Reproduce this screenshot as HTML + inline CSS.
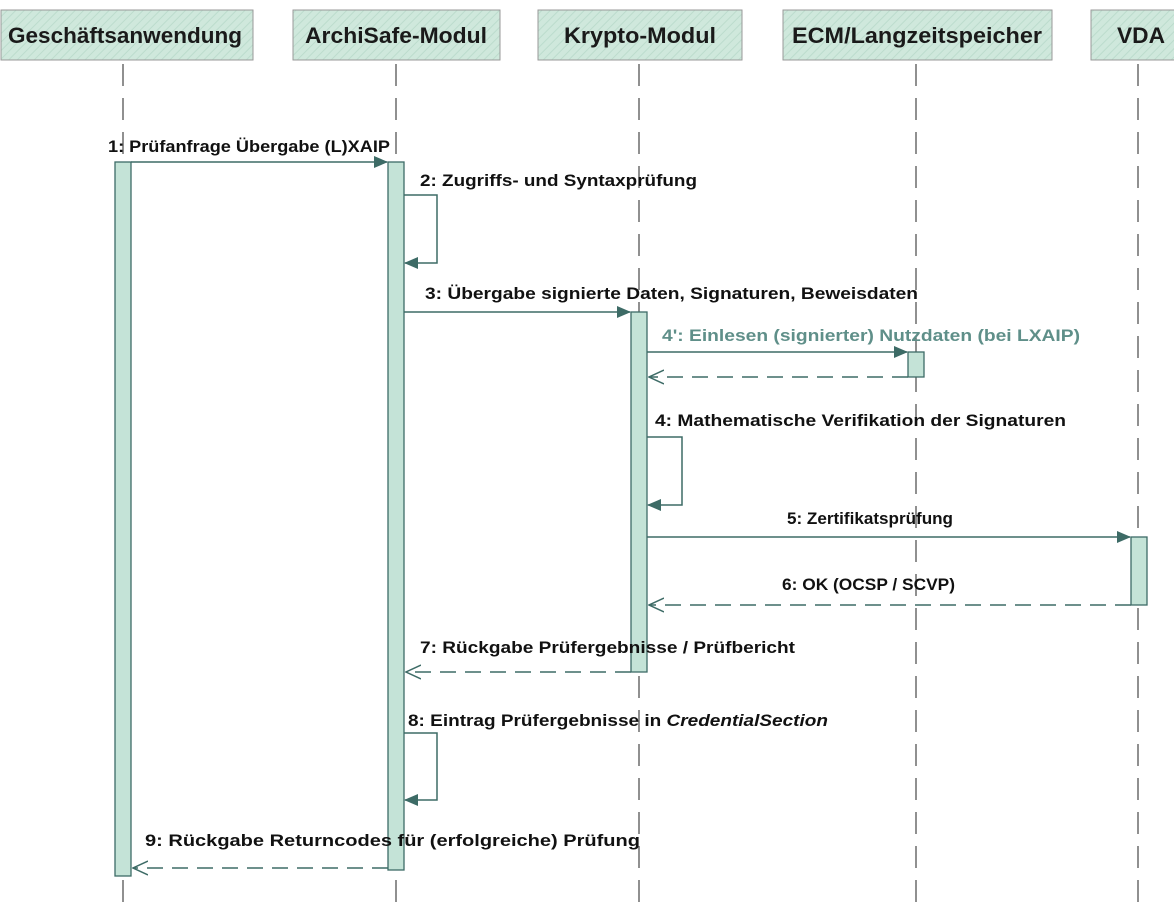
<!DOCTYPE html>
<html><head><meta charset="utf-8"><style>
html,body{margin:0;padding:0;background:#fff;}
svg{display:block;}
.h{font-family:"Liberation Sans",sans-serif;font-weight:bold;font-size:22px;fill:#1a1a1a;}
.m{font-family:"Liberation Sans",sans-serif;font-weight:bold;font-size:17px;fill:#111;}
</style></head><body>
<svg width="1174" height="914" viewBox="0 0 1174 914" xmlns="http://www.w3.org/2000/svg">
<defs>
<pattern id="hp" width="6" height="6" patternUnits="userSpaceOnUse" patternTransform="rotate(45)">
<rect width="6" height="6" fill="#cfe8dc"/><line x1="0" y1="0" x2="0" y2="6" stroke="#bcdccd" stroke-width="2"/>
</pattern>
<marker id="fa" markerWidth="14" markerHeight="12" refX="13" refY="6" orient="auto" markerUnits="userSpaceOnUse"><path d="M0,0 L14,6 L0,12 z" fill="#3d6b66"/></marker>
<marker id="oa" markerWidth="16" markerHeight="16" refX="15" refY="8" orient="auto" markerUnits="userSpaceOnUse"><path d="M0,1 L15,8 L0,15" fill="none" stroke="#3d6b66" stroke-width="1.5"/></marker>
</defs>
<g stroke="#999" stroke-width="1">
<rect x="1" y="10" width="252" height="50" fill="url(#hp)"/>
<rect x="293" y="10" width="207" height="50" fill="url(#hp)"/>
<rect x="538" y="10" width="204" height="50" fill="url(#hp)"/>
<rect x="783" y="10" width="269" height="50" fill="url(#hp)"/>
<rect x="1091" y="10" width="100" height="50" fill="url(#hp)"/>
</g>
<text class="h" x="8" y="43" textLength="234" lengthAdjust="spacingAndGlyphs">Geschäftsanwendung</text>
<text class="h" x="305" y="43" textLength="182" lengthAdjust="spacingAndGlyphs">ArchiSafe-Modul</text>
<text class="h" x="564" y="43" textLength="152" lengthAdjust="spacingAndGlyphs">Krypto-Modul</text>
<text class="h" x="792" y="43" textLength="250" lengthAdjust="spacingAndGlyphs">ECM/Langzeitspeicher</text>
<text class="h" x="1117" y="43" textLength="48" lengthAdjust="spacingAndGlyphs">VDA</text>
<g stroke="#555" stroke-width="1.3" stroke-dasharray="22,12">
<line x1="123" y1="64" x2="123" y2="914"/>
<line x1="396" y1="64" x2="396" y2="914"/>
<line x1="639" y1="64" x2="639" y2="914"/>
<line x1="916" y1="64" x2="916" y2="914"/>
<line x1="1138" y1="64" x2="1138" y2="914"/>
</g>
<g fill="#c4e3d7" stroke="#3d6b66" stroke-width="1.3">
<rect x="115" y="162" width="16" height="714"/>
<rect x="388" y="162" width="16" height="708"/>
<rect x="631" y="312" width="16" height="360"/>
<rect x="908" y="352" width="16" height="25"/>
<rect x="1131" y="537" width="16" height="68"/>
</g>
<g stroke="#3d6b66" stroke-width="1.5" fill="none">
<line x1="131" y1="162" x2="387" y2="162" marker-end="url(#fa)"/>
<polyline points="404,195 437,195 437,263 405,263" marker-end="url(#fa)"/>
<line x1="404" y1="312" x2="630" y2="312" marker-end="url(#fa)"/>
<line x1="647" y1="352" x2="907" y2="352" marker-end="url(#fa)"/>
<line x1="908" y1="377" x2="649" y2="377" stroke-dasharray="16,9" marker-end="url(#oa)"/>
<polyline points="647,437 682,437 682,505 648,505" marker-end="url(#fa)"/>
<line x1="647" y1="537" x2="1130" y2="537" marker-end="url(#fa)"/>
<line x1="1131" y1="605" x2="649" y2="605" stroke-dasharray="16,9" marker-end="url(#oa)"/>
<line x1="631" y1="672" x2="406" y2="672" stroke-dasharray="16,9" marker-end="url(#oa)"/>
<polyline points="404,733 437,733 437,800 405,800" marker-end="url(#fa)"/>
<line x1="388" y1="868" x2="133" y2="868" stroke-dasharray="16,9" marker-end="url(#oa)"/>
</g>
<text class="m" x="108" y="152" textLength="282" lengthAdjust="spacingAndGlyphs">1: Prüfanfrage Übergabe (L)XAIP</text>
<text class="m" x="420" y="186" textLength="277" lengthAdjust="spacingAndGlyphs">2: Zugriffs- und Syntaxprüfung</text>
<text class="m" x="425" y="299" textLength="493" lengthAdjust="spacingAndGlyphs">3: Übergabe signierte Daten, Signaturen, Beweisdaten</text>
<text class="m" x="662" y="341" textLength="418" lengthAdjust="spacingAndGlyphs" style="fill:#5f8f89">4': Einlesen (signierter) Nutzdaten (bei LXAIP)</text>
<text class="m" x="655" y="426" textLength="411" lengthAdjust="spacingAndGlyphs">4: Mathematische Verifikation der Signaturen</text>
<text class="m" x="787" y="524" textLength="166" lengthAdjust="spacingAndGlyphs">5: Zertifikatsprüfung</text>
<text class="m" x="782" y="590" textLength="173" lengthAdjust="spacingAndGlyphs">6: OK (OCSP / SCVP)</text>
<text class="m" x="420" y="653" textLength="375" lengthAdjust="spacingAndGlyphs">7: Rückgabe Prüfergebnisse / Prüfbericht</text>
<text class="m" x="408" y="726" textLength="420" lengthAdjust="spacingAndGlyphs">8: Eintrag Prüfergebnisse in <tspan font-style="italic">CredentialSection</tspan></text>
<text class="m" x="145" y="846" textLength="495" lengthAdjust="spacingAndGlyphs">9: Rückgabe Returncodes für (erfolgreiche) Prüfung</text>
</svg>
</body></html>
